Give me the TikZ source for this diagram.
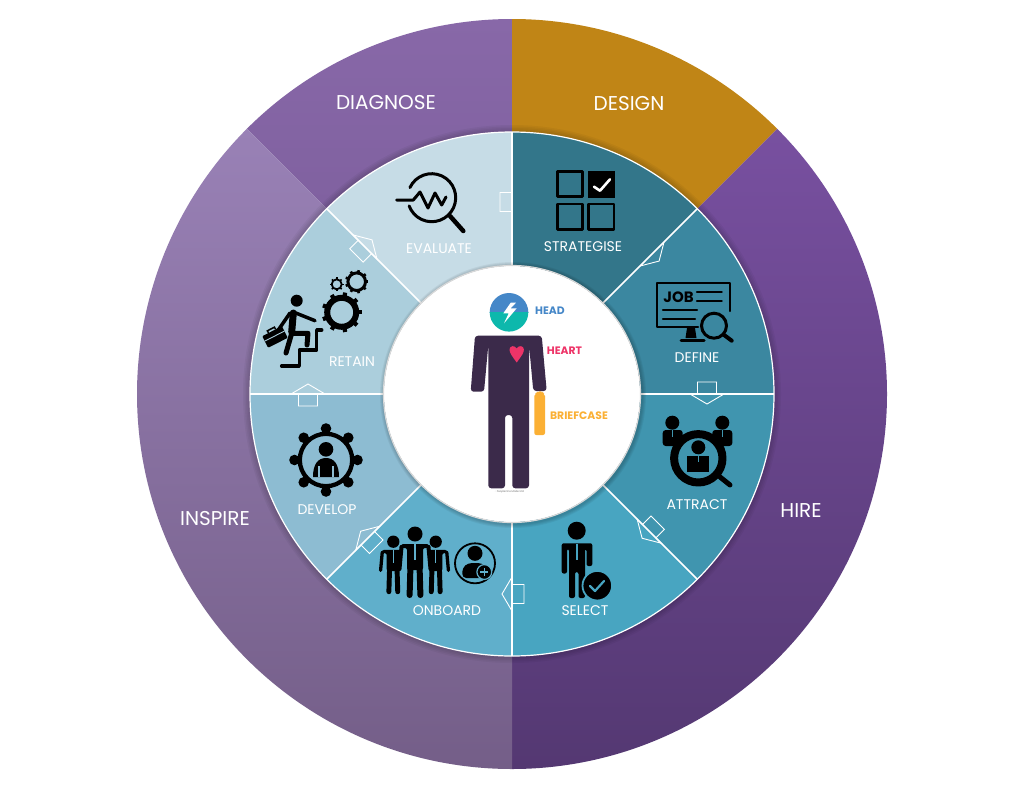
\documentclass[tikz,border=0pt]{standalone}
\usepackage{fontspec}
\setmainfont{Poppins}
\usetikzlibrary{calc}
\definecolor{cDesign}{HTML}{C08516}
\definecolor{cS}{HTML}{33768A}
\definecolor{cD}{HTML}{3B87A0}
\definecolor{cA}{HTML}{4095AF}
\definecolor{cSe}{HTML}{48A5C1}
\definecolor{cO}{HTML}{60AFCB}
\definecolor{cDv}{HTML}{8DBCD2}
\definecolor{cR}{HTML}{ABCEDC}
\definecolor{cE}{HTML}{C6DCE6}
\definecolor{cBody}{HTML}{3B2A4A}
\definecolor{diagT}{HTML}{8868A8}
\definecolor{diagB}{HTML}{785A98}
\definecolor{hireT}{HTML}{7850A0}
\definecolor{hireB}{HTML}{543872}
\definecolor{inspT}{HTML}{9981B6}
\definecolor{inspB}{HTML}{745E88}
\definecolor{hBlue}{HTML}{4587C8}
\definecolor{hTeal}{HTML}{0DB8AC}
\definecolor{hPink}{HTML}{EE3468}
\definecolor{hOrange}{HTML}{FBB034}
\tikzset{
 outerlabel/.style={text=white,font=\fontsize{20}{22}\selectfont,inner sep=0pt},
 innerlabel/.style={text=white,font=\fontsize{14}{16}\selectfont,inner sep=0pt},
 keylabel/.style={font=\fontsize{10.8}{12}\selectfont\bfseries,inner sep=0pt},
 flowarrow/.style={draw=white,line width=0.9pt,line join=miter},
 divider/.style={draw=white,line width=1.5pt},
 ink/.style={line width=#1,draw=black,line cap=round,line join=round},
 ink/.default=2.5pt
}
% wedge: start angle, end angle, radius (screen clockwise angles)
\newcommand{\wedgepath}[3]{(512,394) -- ++(#1:#3) arc[start angle=#1,end angle=#2,radius=#3] -- cycle}
% arrow across the boundary at angle #1, radius #2, clockwise
\newcommand{\flowarrowat}[2]{%
 \begin{scope}[shift={(512,394)}]
  \draw[flowarrow] ($(#1:#2-9.5)+(#1-90:12)$) -- ($(#1:#2+9.5)+(#1-90:12)$) -- (#1:#2+9.5) -- (#1:#2+17) -- ($(#1:#2)+(#1+90:10)$) -- (#1:#2-17) -- (#1:#2-9.5) -- cycle;
 \end{scope}}
% standing suited man: head centre #1,#2, scale #3, tie colour #4
\newcommand{\suitman}[4]{%
 \begin{scope}[shift={(#1,#2)},scale=#3]
  \fill (0,0) circle[radius=7.5];
  \fill[rounded corners=2] (-14,10) -- (14,10) -- (16,14) -- (8,14) -- (8,36) -- (-8,36) -- (-8,14) -- (-16,14) -- cycle;
  \draw[line width=#3*4pt,line cap=round] (-13.5,13) -- (-15.5,35);
  \draw[line width=#3*4pt,line cap=round] (13.5,13) -- (15.5,35);
  \draw[line width=#3*6pt,line cap=round] (-4.6,34) -- (-5.4,61);
  \draw[line width=#3*6pt,line cap=round] (4.6,34) -- (5.4,61);
  \draw[#4,line width=#3*1.6pt] (0,10) -- (0,26);
 \end{scope}}
% gear: centre, mean ring radius, ring width, teeth, outer radius, tooth width
\newcommand{\gear}[7]{%
 \draw[line width=#4pt] (#1,#2) circle[radius=#3];
 \foreach \g in {1,...,#5}{
  \draw[line width=#7pt] ($(#1,#2)+(\g*360/#5:#3)$) -- ($(#1,#2)+(\g*360/#5:#6)$);}}
\begin{document}
\begin{tikzpicture}[x=1pt,y=-1pt]
\useasboundingbox (0,0) rectangle (1024,787);
\fill[white] (0,0) rectangle (1024,787);
% outer ring
\shade[top color=diagT,bottom color=diagB] \wedgepath{-135}{-90}{375};
\fill[cDesign] \wedgepath{-90}{-45}{375};
\shade[top color=hireT,bottom color=hireB] \wedgepath{-45}{90}{375};
\shade[top color=inspT,bottom color=inspB] \wedgepath{90}{225}{375};
% soft shadow of the inner disc
\foreach \r in {269,267.5,266,264.5}{\fill[black,opacity=0.04] (512,394) circle[radius=\r];}
% inner sectors
\fill[cD]  \wedgepath{-45}{0}{262};
\fill[cA]  \wedgepath{0}{45}{262};
\fill[cSe] \wedgepath{45}{90}{262};
\fill[cO]  \wedgepath{90}{135}{262};
\fill[cDv] \wedgepath{135}{180}{262};
\fill[cR]  \wedgepath{180}{225}{262};
\fill[cE]  \wedgepath{225}{270}{262};
% flow arrows
\flowarrowat{0}{195}
\flowarrowat{45}{194}
\flowarrowat{90}{200}
\flowarrowat{135}{204}
\flowarrowat{180}{204}
\flowarrowat{225}{208}
\flowarrowat{270}{192}
\flowarrowat{315}{198}
% strategise on top of its arrows
\fill[cS]  \wedgepath{-90}{-45}{262};
% dividers and rim
\foreach \a in {0,45,...,315}{\draw[divider] (512,394) ++(\a:128) -- ++(\a:134);}
\draw[white,line width=1.2pt] (512,394) circle[radius=262];
% centre disc
\foreach \r in {133,132,131,130}{\fill[black,opacity=0.05] (513,395) circle[radius=\r];}
\fill[white] (512,394) circle[radius=128];
\draw[black!15,line width=1.2pt] (512,394) circle[radius=128.5];
% labels outer
\node[outerlabel] (diagnose) at (386,103) {DIAGNOSE};
\node[outerlabel] (design) at (629,104) {DESIGN};
\node[outerlabel] (hire) at (801,511) {HIRE};
\node[outerlabel] (inspire) at (215,519) {INSPIRE};
% labels inner
\node[innerlabel] (strategise) at (583,247) {STRATEGISE};
\node[innerlabel] (define) at (697,358) {DEFINE};
\node[innerlabel] (attract) at (697,505) {ATTRACT};
\node[innerlabel] (select) at (585,611) {SELECT};
\node[innerlabel] (onboard) at (447,611) {ONBOARD};
\node[innerlabel] (develop) at (327,510) {DEVELOP};
\node[innerlabel] (retain) at (352,362) {RETAIN};
\node[innerlabel] (evaluate) at (439,249) {EVALUATE};
% --- person ---
\begin{scope}
 \clip (489.7,292) rectangle (528.3,312.3);
 \fill[hBlue] (509,312.3) circle[radius=19.3];
\end{scope}
\begin{scope}
 \clip (489.7,312.3) rectangle (528.3,332);
 \fill[hTeal] (509,312.3) circle[radius=19.3];
\end{scope}
\fill[white] (510.7,302.7) -- (503.3,313.3) -- (508.7,313.3) -- (504,323.3) -- (516.7,308.3) -- (510.7,308.3) -- (516,302.7) -- cycle;
\fill[cBody,rounded corners=3] (475,335.7) -- (541.7,335.7) -- (546.7,391) -- (533.3,391) -- (529,345) -- (529,488.3) -- (512.3,488.3) -- (512.3,415) -- (505,415) -- (505,488.3) -- (488.3,488.3) -- (488.3,345) -- (484,391.7) -- (470.7,391.7) -- cycle;
\fill[hPink] (516.7,362.5) .. controls (512,356) and (509.5,353) .. (509.5,349.5) .. controls (509.5,345.5) and (515,345) .. (516.7,348.5) .. controls (518.4,345) and (523.9,345.5) .. (523.9,349.5) .. controls (523.9,353) and (521.4,356) .. (516.7,362.5) -- cycle;
\fill[hOrange,rounded corners=2] (534.3,394) -- (537,393) -- (538.5,391) -- (541.5,391) -- (542.5,393) -- (545,394) -- (545,435) -- (534.3,435) -- cycle;
\node[keylabel,text=hBlue] (head) at (550,310.5) {HEAD};
\node[keylabel,text=hPink] (heart) at (564.5,351) {HEART};
\node[keylabel,text=hOrange] (briefcase) at (579,415.5) {BRIEFCASE};
\node[inner sep=0pt,font=\fontsize{2.6}{3}\selectfont,text=black!55] (mark) at (509,491.5) {© PeopleOne Model Ltd};
% --- STRATEGISE icon ---
\draw[ink] (557.3,171.7) rectangle (582.7,196.7);
\fill[black] (587.5,170.5) rectangle (615,198);
\draw[ink] (557.3,204) rectangle (582.7,229.3);
\draw[ink] (588.7,204) rectangle (614,229.3);
\draw[white,line width=2.6pt,line cap=round,line join=round] (594,186.7) -- (600,190.7) -- (610,179.3);
% --- DEFINE icon ---
\draw[ink=2.4pt] (698,326.7) -- (656.7,326.7) -- (656.7,282.7) -- (730,282.7) -- (730,311);
\node[inner sep=0pt,font=\fontsize{15}{16}\selectfont\bfseries,text=black] (jobword) at (678.5,297) {JOB};
\draw[ink=2.2pt] (697,291.7) -- (721.7,291.7) (697,300.7) -- (721.7,300.7) (663,310) -- (697,310) (663,319.3) -- (695,319.3);
\draw[ink=3pt] (714,325.7) circle[radius=12.5];
\draw[ink=4pt] (723.5,334.5) -- (731.7,340.7);
\fill[black] (687,328) -- (695,328) -- (696.5,338) -- (685.5,338) -- cycle;
\draw[ink=3pt] (681,340.7) -- (704,340.7);
% --- ATTRACT icon ---
\fill[rounded corners=3] (662.7,446) rectangle (682.7,430);
\fill[rounded corners=3] (712.3,446) rectangle (732.3,430);
\fill (672.3,422.7) circle[radius=7];
\fill (722.3,422.7) circle[radius=7];
\draw[cA,line width=1pt] (672.3,430) -- (672.3,437) (722.3,430) -- (722.3,437);
\draw[ink=8pt,fill=cA] (698.3,458.3) circle[radius=24.2];
\draw[ink=5pt] (720,477) -- (730,485);
\fill (698.3,447.3) circle[radius=7];
\fill (687.3,455.7) rectangle (709,471.7);
\draw[cA,line width=1pt] (698.3,455.7) -- (698.3,462);
% --- SELECT icon ---
\fill (576.7,530.7) circle[radius=9];
\fill[rounded corners=2] (561.7,543.3) -- (592.3,543.3) -- (592.3,566) -- (586.5,566) -- (586.5,549) -- (585,549) -- (585,598) -- (578.5,598) -- (578.5,572) -- (575,572) -- (575,598) -- (569,598) -- (569,549) -- (567,549) -- (567,573.5) -- (561.7,573.5) -- cycle;
\draw[cSe,line width=1.2pt] (577,543.5) -- (577,560);
\draw[cSe,line width=1.8pt,fill=black] (597.3,585.7) circle[radius=14.8];
\draw[cSe,line width=2.2pt,line cap=round,line join=round] (590,586) -- (595,591) -- (604,581);
% --- ONBOARD icon ---
\suitman{393.3}{541.7}{0.82}{cO}
\suitman{435.7}{541.7}{0.82}{cO}
\fill[cO] (402,548) rectangle (428,597);
\suitman{415}{534}{1}{cO}
\draw[ink=1.8pt] (475,563.3) circle[radius=20];
\fill (475,553.3) circle[radius=7.5];
\fill[rounded corners=4] (462.3,578) -- (462.3,568) -- (468,563) -- (482,563) -- (487,568) -- (487,578) -- cycle;
\draw[cO,line width=1.2pt,fill=black] (484.3,572) circle[radius=7.4];
\draw[cO,line width=1.5pt] (480.3,572) -- (488.3,572) (484.3,568) -- (484.3,576);
% --- DEVELOP icon ---
\gear{326}{460}{26.2}{4.3}{8}{31}{6}
\foreach \g in {0,45,...,315}{\fill ($(326,460)+(\g:31.5)$) circle[radius=5.3];}
\fill (326,449.3) circle[radius=7.3];
\fill (313,477) .. controls (313,464) and (318,458) .. (326,458) .. controls (334,458) and (339,464) .. (339,477) -- cycle;
\draw[cDv,line width=1.1pt] (319,466) -- (319,477) (333,466) -- (333,477);
% --- RETAIN icon ---
\gear{341.7}{312.3}{14.5}{6}{9}{20}{4.2}
\gear{356.7}{281.7}{8.8}{3}{9}{11.7}{2.6}
\gear{336.7}{284.3}{5}{1.8}{8}{6.9}{1.6}
\fill (296.7,300.7) circle[radius=6];
\draw[ink=7pt] (293.3,313) -- (291.7,332);
\draw[ink=3.5pt] (295,312.7) -- (315,320.7);
\draw[ink=3.5pt] (290,313) -- (278.3,330);
\draw[ink=5pt] (291.7,333.3) -- (308,333.3) -- (307,345);
\draw[ink=5pt] (291.7,333.3) -- (286,353);
\draw[ink=3.5pt] (281.7,366) -- (299.3,366) -- (299.3,350) -- (316.7,350) -- (316.7,330) -- (321.7,330);
\begin{scope}[shift={(275,337)},rotate=27]
 \fill[rounded corners=1] (-11,-6.5) rectangle (11,6.5);
 \draw[line width=1.5pt] (-4,-6.5) -- (-4,-9) -- (4,-9) -- (4,-6.5);
 \draw[cR,line width=0.9pt] (-11,-1) -- (11,-1);
\end{scope}
% --- EVALUATE icon ---
\draw[ink=3pt] (431.7,197.7) ++(-155:24) arc[start angle=-155,end angle=160,radius=24];
\draw[ink=4.5pt] (450,216) -- (463.3,231);
\draw[ink=3pt] (396.7,200) -- (413.3,200) -- (420,192) -- (428,208) -- (435,193) -- (441.7,205) -- (446,197);
\end{tikzpicture}
\end{document}
